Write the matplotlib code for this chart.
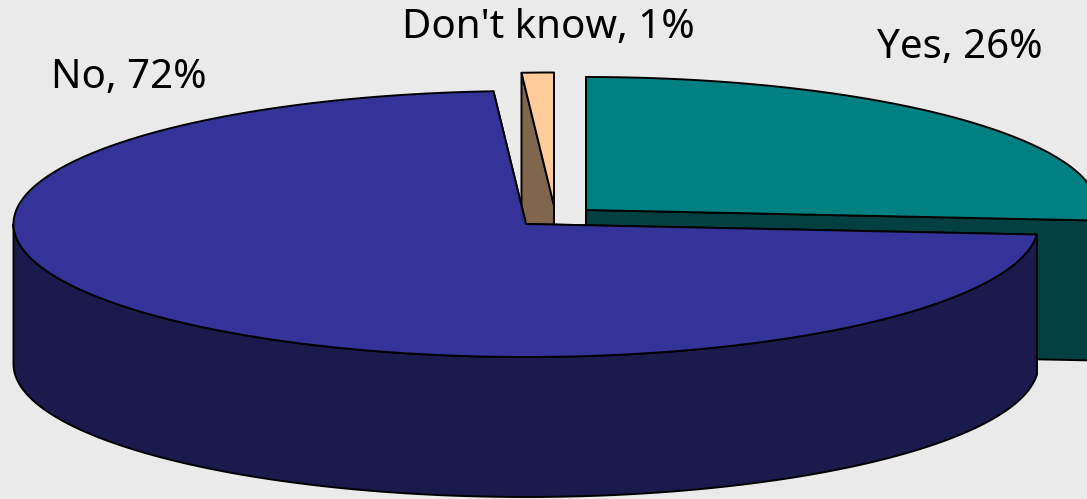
import numpy as np
import matplotlib.pyplot as plt

# Survey answers, drawn clockwise from 12 o'clock
answers = ["Yes", "No", "Don't know"]
percent = [26, 72, 1]

top_colors = ["#008080", "#333399", "#FFCC99"]
side_colors = ["#004040", "#1A1A4D", "#80664D"]

# Pie shape in pixels
center_x = 526
center_y = 224
radius_x = 512.5
radius_y = 133
depth = 140

# How far each slice is pulled out of the pie
pull_x = [60, 0, 28]
pull_y = [-14, 0, -18.5]

label_x = [877, 51, 402]
label_y = [58, 88, 38]

plt.rcParams['font.family'] = ['Noto Sans', 'DejaVu Sans']

fig = plt.figure(figsize=(10.87, 4.99), dpi=100, facecolor="#EAEAEA")
ax = fig.add_axes([0, 0, 1, 1])
ax.set_xlim(0, 1087)
ax.set_ylim(499, 0)
ax.axis("off")


def rim(cx, cy, a, b):
	# points on the ellipse between two angles, measured clockwise from the top
	t = np.radians(np.linspace(a, b, max(int(abs(b - a)) * 2, 2)))
	return cx + radius_x * np.sin(t), cy - radius_y * np.cos(t)


def shape(xs, ys, color):
	ax.fill(xs, ys, facecolor=color, edgecolor="black", linewidth=1.4, joinstyle="round")


# Slice angles
shares = np.array(percent) / sum(percent) * 360
ends = np.cumsum(shares)
starts = ends - shares

# Back slices go first so the big slice can cover them
for i in [0, 2, 1]:
	cx = center_x + pull_x[i]
	cy = center_y + pull_y[i]
	a = starts[i]
	b = ends[i]

	# cut faces
	for angle in [a, b]:
		rx, ry = rim(cx, cy, angle, angle)
		rx = rx[0]
		ry = ry[0]
		shape([cx, rx, rx, cx], [cy, ry, ry + depth, cy + depth], side_colors[i])

	# outer wall, only the part facing the front
	wall_a = max(a, 90)
	wall_b = min(b, 270)
	if wall_a < wall_b:
		xs, ys = rim(cx, cy, wall_a, wall_b)
		shape(np.r_[xs, xs[::-1]], np.r_[ys, ys[::-1] + depth], side_colors[i])

	# top face
	xs, ys = rim(cx, cy, a, b)
	shape(np.r_[cx, xs], np.r_[cy, ys], top_colors[i])

for i in range(len(answers)):
	ax.text(label_x[i], label_y[i], f"{answers[i]}, {percent[i]}%", fontsize=29,
		ha="left", va="baseline", color="black")

plt.savefig("out.png", dpi=100, facecolor=fig.get_facecolor())
